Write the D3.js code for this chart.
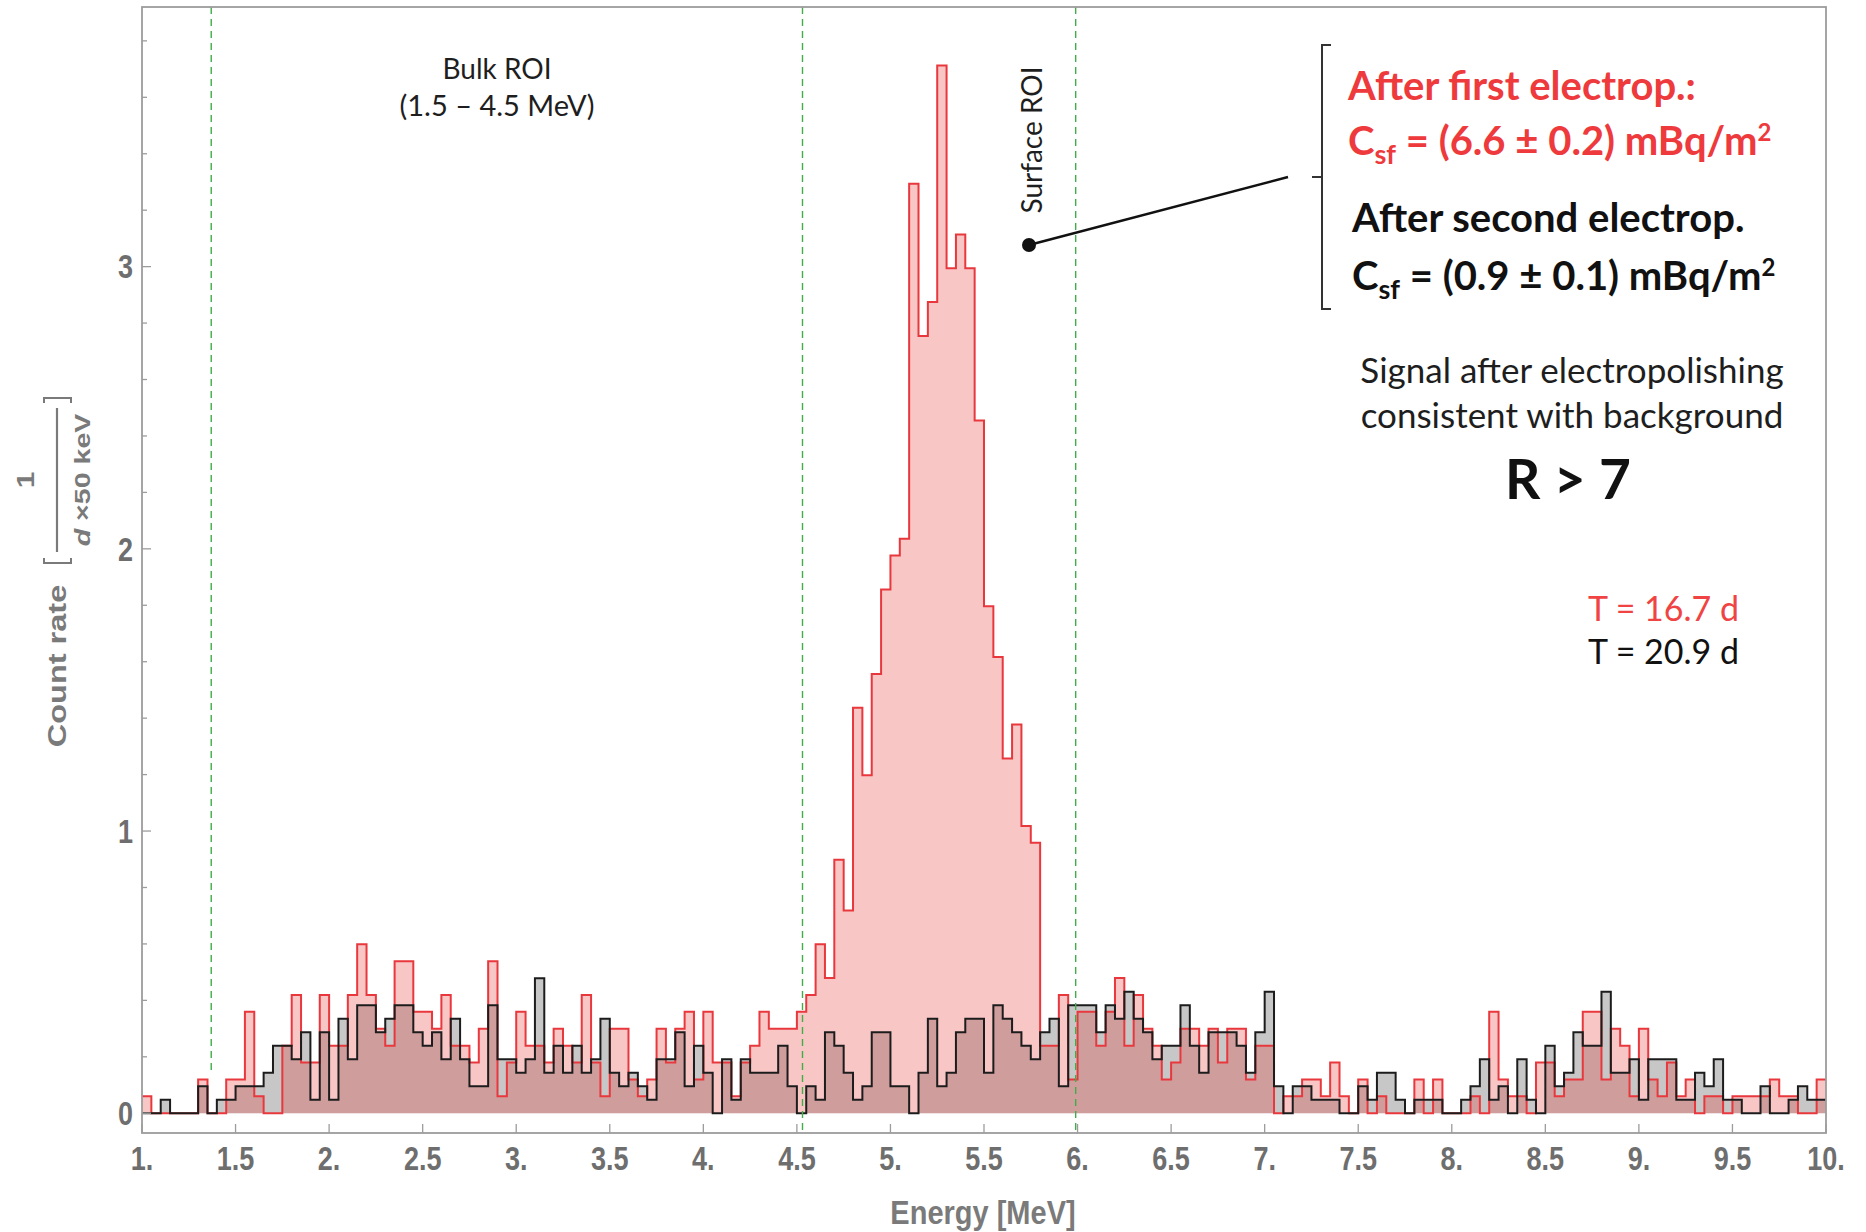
<!DOCTYPE html>
<html>
<head>
<meta charset="utf-8">
<script src="https://cdn.jsdelivr.net/npm/d3@7"></script>
<style>
  body { margin: 0; background: #fff; }
  svg { display: block; }
</style>
</head>
<body>
<div id="chart"></div>
<script>
// histogram: 50 keV bins from 1.0 to 10.0 MeV, counts per bin
var binStart = 1.0, binWidth = 0.05;

// after first electropolishing (red), live time 16.7 d
var redCounts = [
  1,0,0,0,0,0,2,0,0,2,
  2,6,1,0,0,4,7,3,3,7,
  4,4,7,10,7,5,4,9,9,6,
  6,5,7,4,4,3,5,9,1,3,
  6,4,4,3,5,4,3,7,3,1,
  5,5,2,1,2,5,3,5,6,2,
  6,3,3,1,3,4,6,5,5,5,
  6,7,10,8,15,12,24,20,26,31,
  33,34,55,46,48,62,50,52,50,41,
  30,27,21,23,17,16,4,4,7,2,
  6,6,4,6,8,4,7,5,4,2,
  3,5,5,4,5,3,5,5,2,4,
  4,0,1,1,2,2,1,3,1,0,
  2,0,1,0,0,0,2,0,2,0,
  0,0,1,0,6,2,1,1,0,3,
  3,1,2,2,6,6,2,5,4,1,
  5,2,1,3,1,2,0,1,1,0,
  1,1,1,1,2,1,1,0,0,2
];

// after second electropolishing (black), live time 20.9 d
var blackCounts = [
  0,0,1,0,0,0,2,0,1,1,
  2,2,2,3,5,5,4,6,1,6,
  1,7,4,8,8,6,7,8,8,6,
  5,6,4,7,4,2,2,8,4,4,
  3,4,10,3,5,3,5,3,4,7,
  3,2,3,2,1,4,4,6,2,5,
  3,0,4,1,4,3,3,3,5,2,
  0,2,1,6,5,3,1,2,6,6,
  2,2,0,3,7,2,3,6,7,7,
  3,8,7,6,5,4,6,7,2,8,
  8,8,6,8,7,9,7,6,4,5,
  5,8,5,3,6,6,6,5,3,6,
  9,2,0,2,2,1,1,1,0,0,
  2,1,3,3,1,0,1,1,1,0,
  0,1,2,4,1,2,0,4,1,0,
  5,2,3,6,5,5,9,3,3,4,
  1,4,4,4,1,1,3,2,4,1,
  1,0,0,2,0,0,1,2,1,1
];

var redDays = 16.7, blackDays = 20.9;

var xTicks = [1,1.5,2,2.5,3,3.5,4,4.5,5,5.5,6,6.5,7,7.5,8,8.5,9,9.5,10];
var xTickLabels = ["1.","1.5","2.","2.5","3.","3.5","4.","4.5","5.","5.5","6.","6.5","7.","7.5","8.","8.5","9.","9.5","10."];
var yTicks = [0,1,2,3];
var yTickLabels = ["0","1","2","3"];
var roiLines = [1.37, 4.53, 5.99];

var width = 1866, height = 1232;
var plotLeft = 142, plotRight = 1826, plotTop = 7, plotBottom = 1133;

var x = d3.scaleLinear().domain([1, 10]).range([plotLeft, plotRight]);
var y = d3.scaleLinear().domain([-0.07, 3.92]).range([plotBottom, plotTop]);

var svg = d3.select("#chart").append("svg")
  .attr("width", width)
  .attr("height", height)
  .style("background", "#fff");

svg.append("defs").append("clipPath").attr("id", "plotclip")
  .append("rect").attr("x", plotLeft).attr("y", plotTop)
  .attr("width", plotRight - plotLeft).attr("height", plotBottom - plotTop);

function toSteps(counts, days) {
  var pts = counts.map(function(c, i) { return { e: binStart + i * binWidth, v: c / days }; });
  pts.push({ e: binStart + counts.length * binWidth, v: counts[counts.length - 1] / days });
  return pts;
}

var red = toSteps(redCounts, redDays);
var black = toSteps(blackCounts, blackDays);

var area = d3.area()
  .x(function(d) { return x(d.e); })
  .y0(y(0))
  .y1(function(d) { return y(d.v); })
  .curve(d3.curveStepAfter);

var line = d3.line()
  .x(function(d) { return x(d.e); })
  .y(function(d) { return y(d.v); })
  .curve(d3.curveStepAfter);

var plot = svg.append("g").attr("clip-path", "url(#plotclip)");

plot.append("path").attr("d", area(black)).attr("fill", "rgba(0,0,0,0.22)");
plot.append("path").attr("d", area(red)).attr("fill", "rgba(232,50,50,0.28)");
plot.append("path").attr("d", line(red)).attr("fill", "none").attr("stroke", "#e8383d").attr("stroke-width", 2);
plot.append("path").attr("d", line(black)).attr("fill", "none").attr("stroke", "#1c1c1c").attr("stroke-width", 2);

// ROI markers
svg.selectAll(".roi").data(roiLines).enter().append("line")
  .attr("class", "roi")
  .attr("x1", function(d) { return x(d); })
  .attr("x2", function(d) { return x(d); })
  .attr("y1", plotTop)
  .attr("y2", function(d, i) { return i == 0 ? y(0.15) : plotBottom; })
  .attr("stroke", "#3fae49")
  .attr("stroke-width", 1.4)
  .attr("stroke-dasharray", "7,5");

// frame
svg.append("rect")
  .attr("x", plotLeft).attr("y", plotTop)
  .attr("width", plotRight - plotLeft).attr("height", plotBottom - plotTop)
  .attr("fill", "none").attr("stroke", "#9c9c9c").attr("stroke-width", 1.8);

// ticks
var tickColor = "#9c9c9c";
svg.selectAll(".ytick").data(d3.range(0, 3.85, 0.2)).enter().append("line")
  .attr("x1", plotLeft)
  .attr("x2", function(d) { return Math.abs(d - Math.round(d)) < 0.01 ? plotLeft + 9 : plotLeft + 5; })
  .attr("y1", function(d) { return y(d); }).attr("y2", function(d) { return y(d); })
  .attr("stroke", tickColor).attr("stroke-width", 1.3);

svg.selectAll(".xtick").data(xTicks).enter().append("line")
  .attr("x1", function(d) { return x(d); }).attr("x2", function(d) { return x(d); })
  .attr("y1", plotBottom).attr("y2", plotBottom - 9)
  .attr("stroke", tickColor).attr("stroke-width", 1.3);

var axisFont = "'Liberation Sans', Arial, sans-serif";
var labelGray = "#6e6e6e";

svg.selectAll(".xlab").data(xTicks).enter().append("g")
  .attr("transform", function(d) { return "translate(" + x(d) + ",1158) scale(1,1.2)"; })
  .append("text")
  .attr("text-anchor", "middle").attr("dy", "0.36em")
  .style("font-family", axisFont).style("font-weight", "bold").style("font-size", "27px")
  .style("fill", labelGray)
  .text(function(d, i) { return xTickLabels[i]; });

svg.selectAll(".ylab").data(yTicks).enter().append("g")
  .attr("transform", function(d) { return "translate(133," + y(d) + ") scale(1,1.2)"; })
  .append("text")
  .attr("text-anchor", "end").attr("dy", "0.36em")
  .style("font-family", axisFont).style("font-weight", "bold").style("font-size", "27px")
  .style("fill", labelGray)
  .text(function(d, i) { return yTickLabels[i]; });

svg.append("g").attr("transform", "translate(983,1212) scale(1,1.15)")
  .append("text")
  .attr("text-anchor", "middle").attr("dy", "0.36em")
  .style("font-family", axisFont).style("font-weight", "bold").style("font-size", "29px")
  .style("fill", "#7a7a7a")
  .text("Energy [MeV]");

// y label: Count rate [ 1 / (d x 50 keV) ]
var yl = svg.append("g").attr("transform", "translate(57,666) rotate(-90)");
yl.append("g").attr("transform", "scale(1.3,1)")
  .append("text").attr("x", 0).attr("y", 9).attr("text-anchor", "middle")
  .style("font-family", axisFont).style("font-weight", "bold").style("font-size", "25px")
  .style("fill", "#7a7a7a").text("Count rate");
yl.append("path").attr("d", "M108,-13 H103 V14 H108").attr("fill", "none").attr("stroke", "#7a7a7a").attr("stroke-width", 2);
yl.append("path").attr("d", "M263,-13 H268 V14 H263").attr("fill", "none").attr("stroke", "#7a7a7a").attr("stroke-width", 2);
yl.append("line").attr("x1", 114).attr("x2", 258).attr("y1", 0).attr("y2", 0).attr("stroke", "#7a7a7a").attr("stroke-width", 2.2);
yl.append("g").attr("transform", "translate(186,-23) scale(1.3,1)")
  .append("text").attr("text-anchor", "middle")
  .style("font-family", axisFont).style("font-weight", "bold").style("font-size", "23px")
  .style("fill", "#7a7a7a").text("1");
var den = yl.append("g").attr("transform", "translate(186,33) scale(1.3,1)")
  .append("text").attr("text-anchor", "middle")
  .style("font-family", axisFont).style("font-weight", "bold").style("font-size", "22px")
  .style("fill", "#7a7a7a");
den.append("tspan").style("font-style", "italic").text("d");
den.append("tspan").text(" \u00d750 keV");

// annotations
var noteFont = "Lato, 'Open Sans', sans-serif";

svg.append("text").attr("x", 497).attr("y", 79).attr("text-anchor", "middle")
  .style("font-family", noteFont).style("font-size", "28px").style("fill", "#1e1e1e")
  .text("Bulk ROI");
svg.append("text").attr("x", 497).attr("y", 116).attr("text-anchor", "middle")
  .style("font-family", noteFont).style("font-size", "29px").style("fill", "#1e1e1e")
  .text("(1.5 \u2013 4.5 MeV)");

svg.append("text").attr("transform", "translate(1042,140) rotate(-90)").attr("text-anchor", "middle")
  .style("font-family", noteFont).style("font-size", "28px").style("fill", "#1e1e1e")
  .text("Surface ROI");

// pointer from surface ROI to bracket
svg.append("line").attr("x1", 1029).attr("y1", 245).attr("x2", 1288).attr("y2", 177)
  .attr("stroke", "#111").attr("stroke-width", 2.4);
svg.append("circle").attr("cx", 1029).attr("cy", 245).attr("r", 7).attr("fill", "#111");

svg.append("path").attr("d", "M1331,45 H1322 V309 H1331").attr("fill", "none").attr("stroke", "#333").attr("stroke-width", 2);
svg.append("path").attr("d", "M1312,177 H1322").attr("fill", "none").attr("stroke", "#333").attr("stroke-width", 2);

var redText = "#ee3a3c";

function csf(xPos, yPos, val, color) {
  var t = svg.append("text").attr("x", xPos).attr("y", yPos)
    .style("font-family", noteFont).style("font-weight", "bold").style("font-size", "40px")
    .style("fill", color);
  t.append("tspan").text("C");
  t.append("tspan").attr("dy", 9).style("font-size", "27px").text("sf");
  t.append("tspan").attr("dy", -9).text(" = " + val + " mBq/m");
  t.append("tspan").attr("dy", -14).style("font-size", "24px").text("2");
}

svg.append("text").attr("x", 1348).attr("y", 100)
  .style("font-family", noteFont).style("font-weight", "bold").style("font-size", "40px")
  .style("fill", redText).text("After first electrop.:");
csf(1348, 155, "(6.6 \u00b1 0.2)", redText);

svg.append("text").attr("x", 1352).attr("y", 232)
  .style("font-family", noteFont).style("font-weight", "bold").style("font-size", "40px")
  .style("fill", "#111").text("After second electrop.");
csf(1352, 290, "(0.9 \u00b1 0.1)", "#111");

svg.append("text").attr("x", 1572).attr("y", 383).attr("text-anchor", "middle")
  .style("font-family", noteFont).style("font-size", "35px").style("fill", "#1e1e1e")
  .text("Signal after electropolishing");
svg.append("text").attr("x", 1572).attr("y", 428).attr("text-anchor", "middle")
  .style("font-family", noteFont).style("font-size", "35px").style("fill", "#1e1e1e")
  .text("consistent with background");
svg.append("text").attr("x", 1568).attr("y", 499).attr("text-anchor", "middle")
  .style("font-family", noteFont).style("font-weight", "bold").style("font-size", "55px")
  .style("fill", "#111").text("R > 7");

svg.append("text").attr("x", 1739).attr("y", 621).attr("text-anchor", "end")
  .style("font-family", noteFont).style("font-size", "34px").style("fill", "#f04444")
  .text("T = " + redDays + " d");
svg.append("text").attr("x", 1739).attr("y", 664).attr("text-anchor", "end")
  .style("font-family", noteFont).style("font-size", "34px").style("fill", "#111")
  .text("T = " + blackDays + " d");
</script>
</body>
</html>
